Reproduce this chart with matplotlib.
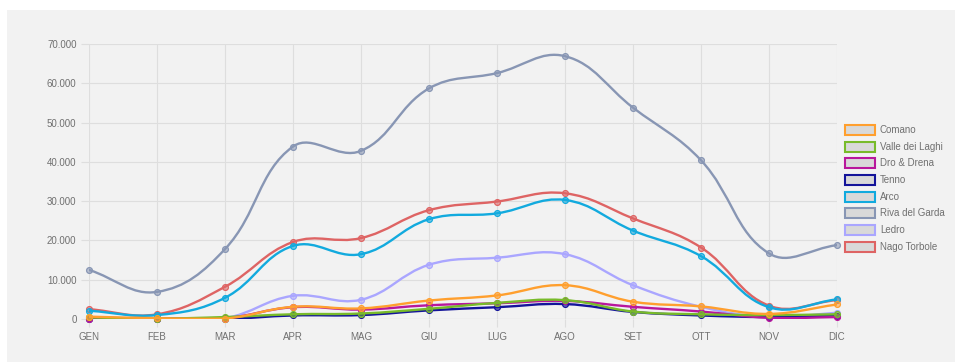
import numpy as np
import matplotlib
matplotlib.use("Agg")
import matplotlib.pyplot as plt
from matplotlib.path import Path
from matplotlib.patches import PathPatch, Rectangle
from matplotlib.colors import to_rgba
from matplotlib.ticker import FuncFormatter, MultipleLocator

plt.rcParams['font.family'] = ['Liberation Sans', 'DejaVu Sans']

# Monthly values per area
months = ["GEN", "FEB", "MAR", "APR", "MAG", "GIU", "LUG", "AGO", "SET", "OTT", "NOV", "DIC"]
series_names = ["Comano", "Valle dei Laghi", "Dro & Drena", "Tenno", "Arco",
                "Riva del Garda", "Ledro", "Nago Torbole"]
comano = [600, 200, 100, 3100, 2700, 4700, 6000, 8600, 4400, 3200, 1300, 3700]
valle_dei_laghi = [400, 100, 500, 1200, 1400, 2600, 4100, 4800, 1900, 1200, 1000, 1200]
dro_drena = [100, 100, 200, 3000, 2400, 3500, 4000, 4600, 3100, 1900, 300, 500]
tenno = [0, 0, 0, 900, 1000, 2200, 3000, 3800, 1800, 900, 500, 800]
arco = [2100, 1000, 5400, 18600, 16500, 25400, 26900, 30300, 22500, 16000, 3000, 5000]
riva_del_garda = [12500, 6900, 17800, 43900, 42800, 58700, 62600, 66900, 53800, 40400, 16700, 18800]
ledro = [300, 200, 200, 5900, 4900, 13800, 15600, 16500, 8600, 3100, 500, 1600]
nago_torbole = [2500, 1200, 8200, 19600, 20600, 27700, 29900, 32000, 25600, 18200, 3400, 4800]

series_values = [comano, valle_dei_laghi, dro_drena, tenno, arco,
                 riva_del_garda, ledro, nago_torbole]
series_colors = ["#ff9f2e", "#78bb2a", "#b8179c", "#14149a", "#12aade",
                 "#8896b4", "#aaa6ff", "#de6464"]

W, H = 958, 362
fig = plt.figure(figsize=(W / 100, H / 100), dpi=100)
fig.patch.set_facecolor("white")
fig.add_artist(Rectangle((7 / W, 0), (955 - 7) / W, (H - 10) / H,
                         transform=fig.transFigure, facecolor="#f2f2f2",
                         edgecolor="none", zorder=-10))

ax = fig.add_axes([89 / W, 43 / H, 748 / W, 275 / H])
ax.set_facecolor("none")
x = np.arange(len(months))
ax.set_xlim(0, len(months) - 1)
ax.set_ylim(0, 70000)

grid_c = "#dedede"
ax.yaxis.set_major_locator(MultipleLocator(10000))
ax.yaxis.set_major_formatter(FuncFormatter(lambda v, p: f"{int(v):,}".replace(",", ".")))
ax.set_xticks(x)
ax.set_xticklabels(months)
ax.grid(True, color=grid_c, linewidth=0.8)
ax.set_axisbelow(True)
for s in ax.spines.values():
    s.set_visible(False)
ax.tick_params(axis="both", colors=grid_c, length=6, width=0.8,
               labelcolor="#707070", labelsize=7)
ax.tick_params(axis="y", pad=3)
ax.tick_params(axis="x", pad=3)
ax.axhline(0, color="#bdbdbd", linewidth=0.8, zorder=0.5)


def spline_path(xs, ys, tension=0.4):
    """Cubic Bezier path through the points, with spline control points
    computed in pixel space and capped to the plotting area."""
    pts = ax.transData.transform(np.column_stack([xs, ys]))
    bbox = ax.bbox
    n = len(pts)
    cp_prev = np.zeros_like(pts)
    cp_next = np.zeros_like(pts)
    for i in range(n):
        p0 = pts[i - 1] if i > 0 else pts[i]
        p1 = pts[i]
        p2 = pts[i + 1] if i < n - 1 else pts[i]
        d01 = np.hypot(*(p1 - p0))
        d12 = np.hypot(*(p2 - p1))
        tot = d01 + d12
        s01 = d01 / tot if tot else 0
        s12 = d12 / tot if tot else 0
        fa, fb = tension * s01, tension * s12
        cp_prev[i] = p1 - fa * (p2 - p0)
        cp_next[i] = p1 + fb * (p2 - p0)
    for cp in (cp_prev, cp_next):
        cp[:, 0] = np.clip(cp[:, 0], bbox.x0, bbox.x1)
        cp[:, 1] = np.clip(cp[:, 1], bbox.y0, bbox.y1)
    inv = ax.transData.inverted()
    verts = [pts[0]]
    codes = [Path.MOVETO]
    for i in range(n - 1):
        verts += [cp_next[i], cp_prev[i + 1], pts[i + 1]]
        codes += [Path.CURVE4] * 3
    return Path(inv.transform(np.array(verts)), codes)


n_series = len(series_values)
for i, (vals, col) in enumerate(zip(series_values, series_colors)):
    z = 10 + (n_series - i) * 2
    path = spline_path(x, vals)
    ax.add_patch(PathPatch(path, facecolor="none", edgecolor=col,
                           linewidth=1.7, zorder=z, capstyle="round",
                           joinstyle="round"))
    r, g, b, _ = to_rgba(col)
    ax.plot(x, vals, linestyle="none", marker="o", markersize=4.2,
            markerfacecolor=(r, g, b, 0.55), markeredgecolor=col,
            markeredgewidth=0.9, zorder=z + 1, clip_on=False)

# Legend on the right
row0, row_step = 130, 16.67
for i, (name, col) in enumerate(zip(series_names, series_colors)):
    cy = row0 + i * row_step
    fig.add_artist(Rectangle((845 / W, 1 - (cy + 5) / H), 30 / W, 10 / H,
                             transform=fig.transFigure, facecolor="#d9d9d9",
                             edgecolor=col, linewidth=1.5))
    fig.text(880 / W, 1 - cy / H, name, color="#707070", fontsize=7,
             ha="left", va="center")

fig.savefig("out.png", dpi=100, facecolor=fig.get_facecolor())
